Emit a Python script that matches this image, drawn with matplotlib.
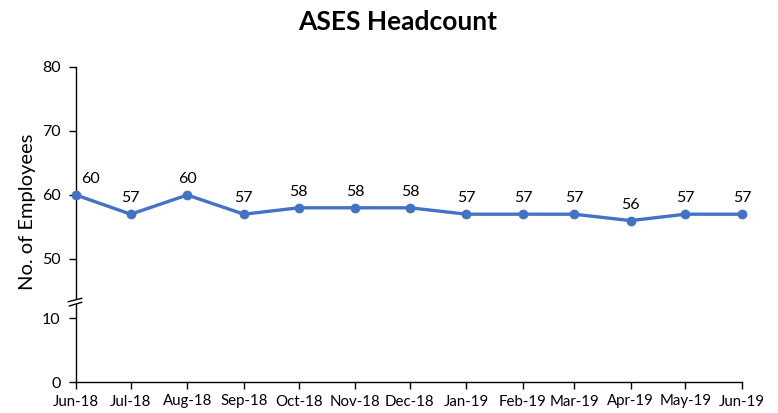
import matplotlib
matplotlib.use("Agg")
import matplotlib.pyplot as plt
import matplotlib.dates as mdates
import numpy as np
import datetime as dt

plt.rcParams['font.family'] = ['Lato', 'DejaVu Sans']

months = ["2018-06", "2018-07", "2018-08", "2018-09", "2018-10", "2018-11", "2018-12",
          "2019-01", "2019-02", "2019-03", "2019-04", "2019-05", "2019-06"]
headcount = [60, 57, 60, 57, 58, 58, 58, 57, 57, 57, 56, 57, 57]
yticks = [0, 10, 50, 60, 70, 80]
title = "ASES Headcount"
ylabel = "No. of Employees"

dates = [dt.datetime.strptime(m + "-01", "%Y-%m-%d") for m in months]

# broken-axis mapping (value -> pixel-like units)
_v = [0, 10, 50, 80]
_u = [0, 64, 123, 315]
def fwd(v):
    return np.interp(v, _v, _u)
def inv(u):
    return np.interp(u, _u, _v)

W, H = 778, 413
fig = plt.figure(figsize=(W / 100, H / 100), dpi=100)
ax = fig.add_axes([76 / W, 1 - 382 / H, (742 - 76) / W, (382 - 67) / H])
ax.set_yscale('function', functions=(fwd, inv))

color = '#4472C4'
ax.plot(dates, headcount, color=color, lw=2.4, marker='o', ms=6, clip_on=False, zorder=3)

for i, (d, v) in enumerate(zip(dates, headcount)):
    dx = 14 if i == 0 else 0
    ax.annotate(str(v), (d, v), xytext=(dx, 9), textcoords='offset pixels',
                ha='center', va='bottom', fontsize=11.5, color='#000000')

ax.set_ylim(0, 80)
ax.set_xlim(dates[0], dates[-1])
ax.set_yticks(yticks)
ax.set_yticklabels([str(t) for t in yticks])
ax.set_xticks(dates)
ax.xaxis.set_major_formatter(mdates.DateFormatter('%b-%y'))
ax.tick_params(axis='both', direction='out', length=5, width=1, color='#000000',
               labelcolor='#000000')
ax.tick_params(axis='x', pad=4, labelsize=10.8)
ax.tick_params(axis='y', pad=6, labelsize=11.5)
for s in ['top', 'right']:
    ax.spines[s].set_visible(False)
for s in ['left', 'bottom']:
    ax.spines[s].set_color('#000000')
    ax.spines[s].set_linewidth(1)

# break marks on the y axis
brk_top = [(68.3, 301.7), (81.7, 298.3)]
brk_bot = [(69.3, 306.0), (81.7, 302.3)]
poly = plt.Polygon([(x / W, 1 - y / H) for x, y in brk_top + brk_bot[::-1]],
                   closed=True, transform=fig.transFigure, facecolor='white', edgecolor='none', zorder=5)
fig.patches.append(poly)
for seg in (brk_top, brk_bot):
    fig.add_artist(plt.Line2D([p[0] / W for p in seg], [1 - p[1] / H for p in seg],
                              transform=fig.transFigure, color='#000000', lw=1, zorder=6))

fig.text(398 / W, 1 - 22 / H, title, ha='center', va='center', fontsize=19, fontweight='bold')
fig.text(28 / W, 1 - 212 / H, ylabel, ha='center', va='center', rotation=90, fontsize=14.5)

fig.savefig('out.png', dpi=100)
